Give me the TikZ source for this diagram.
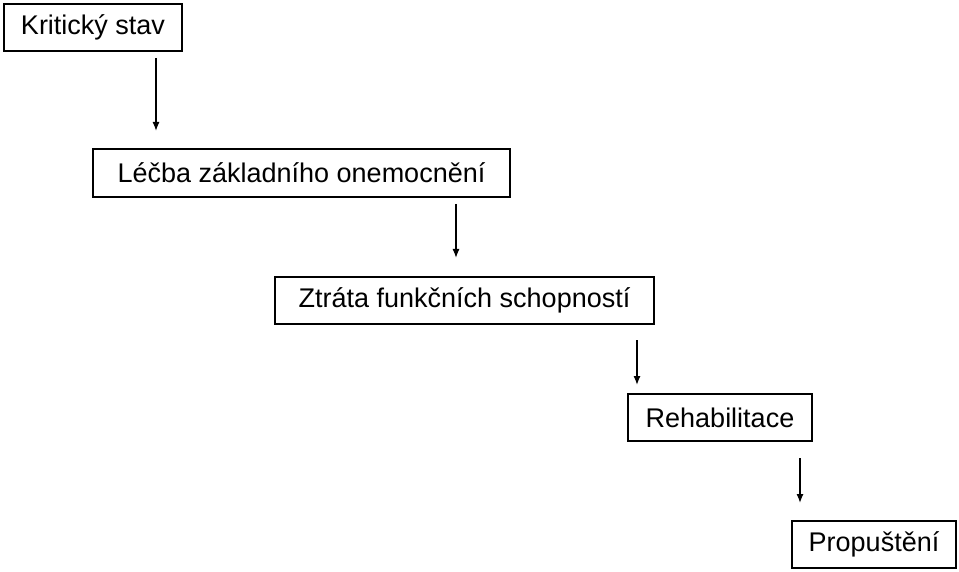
\documentclass[tikz,border=0pt]{standalone}
\usepackage{fontspec}
\setmainfont{Liberation Sans}
\usetikzlibrary{arrows.meta}
\begin{document}
\begin{tikzpicture}[x=1pt,y=-1pt,
  bx/.style={draw,line width=1.6pt,inner sep=0pt,font=\fontsize{27}{30}\selectfont},
  arr/.style={line width=1.3pt,-{Latex[length=9pt,width=7pt]}}]
\useasboundingbox (0,0) rectangle (959,572);
\node[bx,minimum width=178pt,minimum height=47pt] (a) at (93,27.5) {Kritický stav};
\node[bx,minimum width=417pt,minimum height=48pt] (b) at (301.5,173) {Léčba základního onemocnění};
\node[bx,minimum width=379pt,minimum height=47pt] (c) at (464.5,300.5) {Ztráta funkčních schopností};
\node[bx,minimum width=184pt,minimum height=47pt] (d) at (720,417.5) {Rehabilitace};
\node[bx,minimum width=164pt,minimum height=47pt] (e) at (874,544.5) {Propuštění};
\coordinate (a1) at (156,58); \coordinate (a2) at (156,131);
\coordinate (b1) at (456,204); \coordinate (b2) at (456,258);
\coordinate (c1) at (637,340); \coordinate (c2) at (637,385);
\coordinate (d1) at (800,458); \coordinate (d2) at (800,503);
\draw[arr] (a1) -- (a2);
\draw[arr] (b1) -- (b2);
\draw[arr] (c1) -- (c2);
\draw[arr] (d1) -- (d2);
\end{tikzpicture}
\end{document}
